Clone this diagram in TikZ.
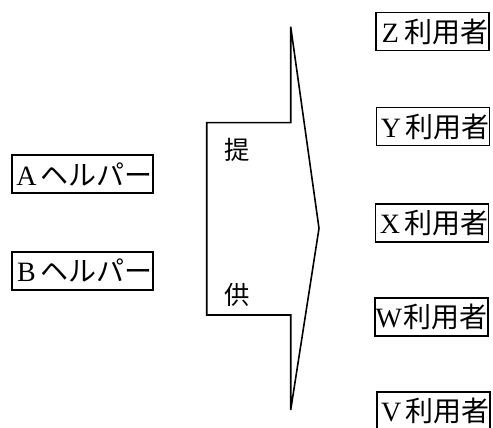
\documentclass[tikz,border=0pt]{standalone}
\usepackage{fontspec}
\setmainfont{Liberation Serif}
\newfontfamily\jfont{Noto Sans CJK JP}
\newcommand{\lt}[1]{\makebox[1em][c]{#1}}
\begin{document}
\begin{tikzpicture}[x=0.75pt,y=-0.75pt,
  boxnode/.style={draw=black,line width=1.4pt,inner sep=0pt,minimum height=38*0.75pt,font=\fontsize{21}{23}\selectfont},
  helper/.style={boxnode,minimum width=141.6*0.75pt},
  user/.style={boxnode,minimum width=113*0.75pt},
  arrowshape/.style={draw=black,line width=1.2pt,line join=miter},
  lbl/.style={inner sep=0pt,font=\fontsize{19}{21}\selectfont\jfont}]
\useasboundingbox (0,0) rectangle (493,428);
\clip (0,0) rectangle (493,428);
% helpers
\node[helper] (A) at (82.5,174.2) {\lt{A}\jfont ヘルパー};
\node[helper] (B) at (82.5,270.8) {\lt{B}\jfont ヘルパー};
% users
\node[user] (Z) at (432.5,31.5) {\lt{Z}\jfont 利用者};
\node[user] (Y) at (433,126.5) {\lt{Y}\jfont 利用者};
\node[user] (X) at (432,223) {\lt{X}\jfont 利用者};
\node[user] (W) at (431.7,317) {\makebox[1em][l]{W}\jfont 利用者};
\node[user] (V) at (433.3,410.7) {\lt{V}\jfont 利用者};
% arrow
\draw[arrowshape] (290.7,26.7) -- (290.7,122.7) -- (206.7,122.7) -- (206.7,315)
  -- (290.7,315) -- (290.7,410) -- (319,228.3) -- cycle;
\node[lbl] (t1) at (236.7,150) {提};
\node[lbl] (t2) at (236.7,295) {供};
\end{tikzpicture}
\end{document}
